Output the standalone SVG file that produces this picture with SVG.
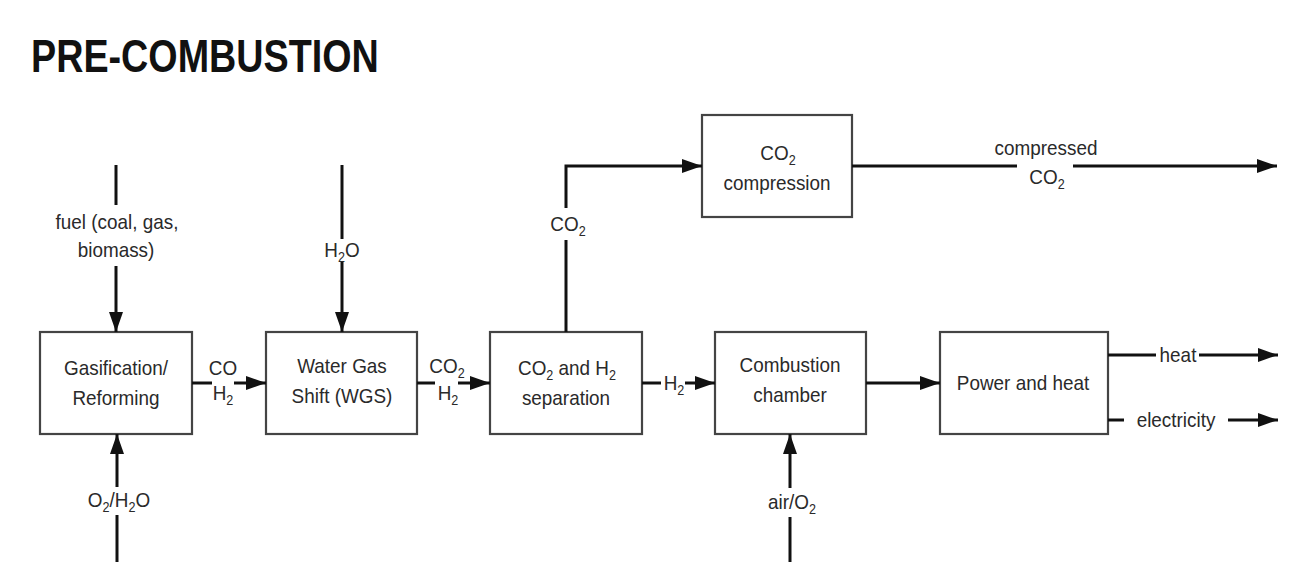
<svg xmlns="http://www.w3.org/2000/svg" width="1291" height="569" viewBox="0 0 1291 569">
<style>
.box{fill:#fff;stroke:#444;stroke-width:2.2}
.t{font-family:"Liberation Sans",Arial,sans-serif;font-size:21px;fill:#2a2a2a;text-anchor:middle}
.s{font-size:14px}
.ln{fill:none;stroke:#111;stroke-width:3}
.title{font-family:"Liberation Sans",Arial,sans-serif;font-size:46px;font-weight:bold;fill:#111}
</style>
<defs>
<marker id="ah" markerUnits="userSpaceOnUse" markerWidth="20" markerHeight="14" refX="20" refY="7" orient="auto">
<path d="M0,0 L20,7 L0,14 z" fill="#111"/>
</marker>
</defs>
<rect width="1291" height="569" fill="#fff"/>
<text class="title" transform="translate(31,72) scale(0.82,1)">PRE-COMBUSTION</text>

<g id="gasification">
<rect class="box" x="40" y="332" width="152" height="102"/>
<text class="t" transform="translate(116,375) scale(0.9,1)">Gasification/</text>
<text class="t" transform="translate(116,405) scale(0.9,1)">Reforming</text>
</g>
<g id="wgs">
<rect class="box" x="266" y="332" width="151" height="102"/>
<text class="t" transform="translate(342,373) scale(0.9,1)">Water Gas</text>
<text class="t" transform="translate(342,403) scale(0.9,1)">Shift (WGS)</text>
</g>
<g id="separation">
<rect class="box" x="490" y="332" width="152" height="102"/>
<text class="t" transform="translate(567,375) scale(0.9,1)">CO<tspan class="s" dy="5">2</tspan><tspan dy="-5"> and H</tspan><tspan class="s" dy="5">2</tspan></text>
<text class="t" transform="translate(566,405) scale(0.9,1)">separation</text>
</g>
<g id="combustion">
<rect class="box" x="715" y="332" width="151" height="102"/>
<text class="t" transform="translate(790,372) scale(0.9,1)">Combustion</text>
<text class="t" transform="translate(790,402) scale(0.9,1)">chamber</text>
</g>
<g id="power">
<rect class="box" x="940" y="332" width="168" height="102"/>
<text class="t" transform="translate(1023,390) scale(0.9,1)">Power and heat</text>
</g>
<g id="compression">
<rect class="box" x="702" y="115" width="150" height="102"/>
<text class="t" transform="translate(778,160) scale(0.9,1)">CO<tspan class="s" dy="5">2</tspan></text>
<text class="t" transform="translate(777,190) scale(0.9,1)">compression</text>
</g>

<g id="connectors">
<!-- fuel -->
<path class="ln" d="M116,165 V205"/>
<path class="ln" d="M116,266 V332" marker-end="url(#ah)"/>
<!-- H2O -->
<path class="ln" d="M342,165 V239"/>
<path class="ln" d="M342,261 V332" marker-end="url(#ah)"/>
<!-- O2/H2O -->
<path class="ln" d="M117,562 V515"/>
<path class="ln" d="M117,487 V434" marker-end="url(#ah)"/>
<!-- air/O2 -->
<path class="ln" d="M790,562 V517"/>
<path class="ln" d="M790,488 V434" marker-end="url(#ah)"/>
<!-- CO/H2 -->
<path class="ln" d="M192,383 H212"/>
<path class="ln" d="M234,383 H266" marker-end="url(#ah)"/>
<!-- CO2/H2 -->
<path class="ln" d="M417,383 H435"/>
<path class="ln" d="M458,383 H490" marker-end="url(#ah)"/>
<!-- H2 -->
<path class="ln" d="M642,383 H661"/>
<path class="ln" d="M685,383 H715" marker-end="url(#ah)"/>
<!-- combustion to power -->
<path class="ln" d="M866,383 H940" marker-end="url(#ah)"/>
<!-- CO2 up -->
<path class="ln" d="M566,332 V240"/>
<path class="ln" d="M566,208 V166 H702" marker-end="url(#ah)"/>
<!-- compressed CO2 -->
<path class="ln" d="M852,166 H1017"/>
<path class="ln" d="M1073,166 H1277" marker-end="url(#ah)"/>
<!-- heat -->
<path class="ln" d="M1108,355 H1156"/>
<path class="ln" d="M1199,355 H1278" marker-end="url(#ah)"/>
<!-- electricity -->
<path class="ln" d="M1108,420 H1124"/>
<path class="ln" d="M1228,420 H1278" marker-end="url(#ah)"/>

<text class="t" transform="translate(117,229) scale(0.9,1)">fuel (coal, gas,</text>
<text class="t" transform="translate(116,257) scale(0.9,1)">biomass)</text>
<text class="t" transform="translate(342,257) scale(0.9,1)">H<tspan class="s" dy="5">2</tspan><tspan dy="-5">O</tspan></text>
<text class="t" transform="translate(119,507) scale(0.9,1)">O<tspan class="s" dy="5">2</tspan><tspan dy="-5">/H</tspan><tspan class="s" dy="5">2</tspan><tspan dy="-5">O</tspan></text>
<text class="t" transform="translate(792,509) scale(0.9,1)">air/O<tspan class="s" dy="5">2</tspan></text>
<text class="t" transform="translate(223,375) scale(0.9,1)">CO</text>
<text class="t" transform="translate(223,400) scale(0.9,1)">H<tspan class="s" dy="5">2</tspan></text>
<text class="t" transform="translate(447,373) scale(0.9,1)">CO<tspan class="s" dy="5">2</tspan></text>
<text class="t" transform="translate(448,400) scale(0.9,1)">H<tspan class="s" dy="5">2</tspan></text>
<text class="t" transform="translate(674,390) scale(0.9,1)">H<tspan class="s" dy="5">2</tspan></text>
<text class="t" transform="translate(568,231) scale(0.9,1)">CO<tspan class="s" dy="5">2</tspan></text>
<text class="t" transform="translate(1046,155) scale(0.9,1)">compressed</text>
<text class="t" transform="translate(1047,184) scale(0.9,1)">CO<tspan class="s" dy="5">2</tspan></text>
<text class="t" transform="translate(1178,362) scale(0.9,1)">heat</text>
<text class="t" transform="translate(1176,427) scale(0.9,1)">electricity</text>
</g>
</svg>
